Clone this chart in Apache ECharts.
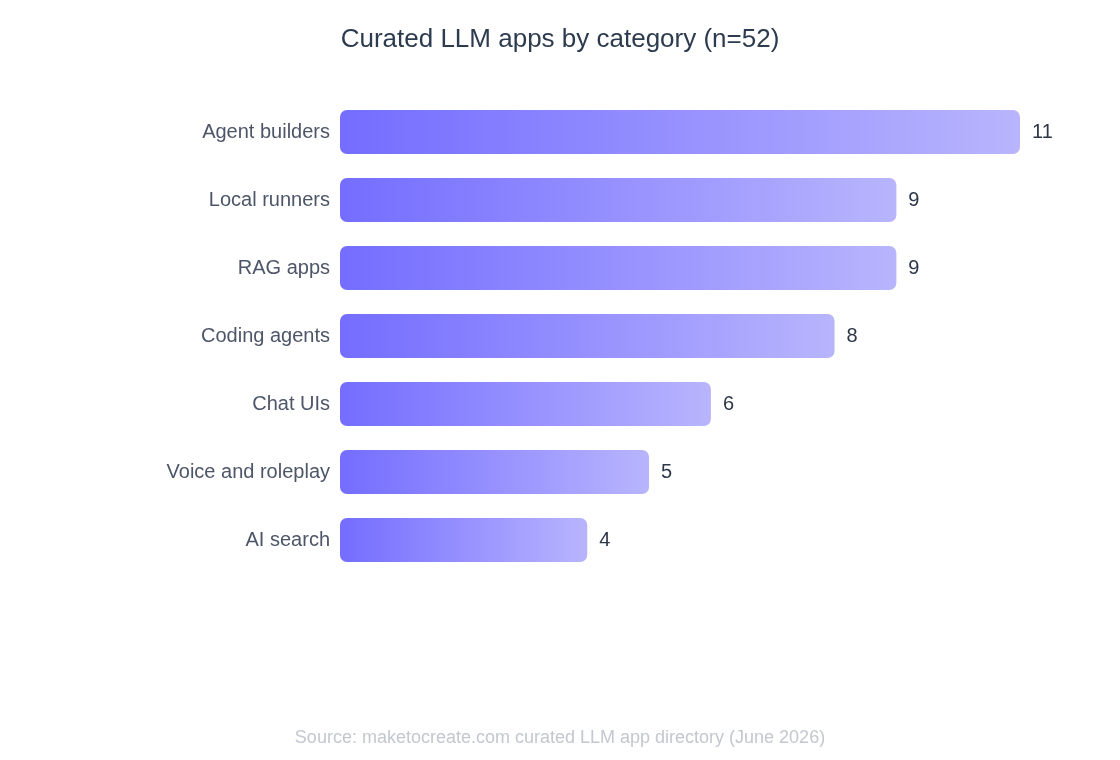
<!DOCTYPE html>
<html>
<head>
<meta charset="utf-8">
<script src="https://cdn.jsdelivr.net/npm/echarts@6/dist/echarts.min.js"></script>
<style>
  html, body { margin: 0; padding: 0; background: #fff; }
  #chart { width: 1120px; height: 760px; }
</style>
</head>
<body>
<div id="chart"></div>
<script>
// data
var categories = ['Agent builders', 'Local runners', 'RAG apps', 'Coding agents', 'Chat UIs', 'Voice and roleplay', 'AI search'];
var counts = [11, 9, 9, 8, 6, 5, 4];

var font = '"Liberation Sans", Arial, sans-serif';
var myChart = echarts.init(document.getElementById('chart'));

var option = {
    backgroundColor: '#ffffff',
    textStyle: { fontFamily: font },
    title: [{
        text: 'Curated LLM apps by category (n=52)',
        left: 'center',
        top: 22,
        textStyle: { fontFamily: font, fontSize: 26, fontWeight: 'normal', color: '#2d3b4f' }
    }, {
        text: 'Source: maketocreate.com curated LLM app directory (June 2026)',
        left: 'center',
        top: 724,
        textStyle: { fontFamily: font, fontSize: 18, fontWeight: 'normal', color: '#c3c7cf' }
    }],
    grid: { left: 340, right: 100, top: 98, bottom: 186 },
    xAxis: {
        type: 'value',
        min: 0,
        max: 11,
        show: false
    },
    yAxis: {
        type: 'category',
        data: categories,
        inverse: true,
        axisLine: { show: false },
        axisTick: { show: false },
        axisLabel: { fontFamily: font, fontSize: 20, color: '#4d5668', margin: 10, padding: [2, 0, 0, 0] }
    },
    series: [{
        type: 'bar',
        data: counts,
        barWidth: 44,
        itemStyle: {
            borderRadius: 7,
            color: new echarts.graphic.LinearGradient(0, 0, 1, 0, [
                { offset: 0, color: '#746dff' },
                { offset: 1, color: '#b8b5fd' }
            ])
        },
        label: {
            show: true,
            position: 'right',
            distance: 12,
            fontFamily: font,
            fontSize: 20,
            color: '#2d3748',
            padding: [2, 0, 0, 0]
        }
    }]
};

myChart.setOption(option);
</script>
</body>
</html>
